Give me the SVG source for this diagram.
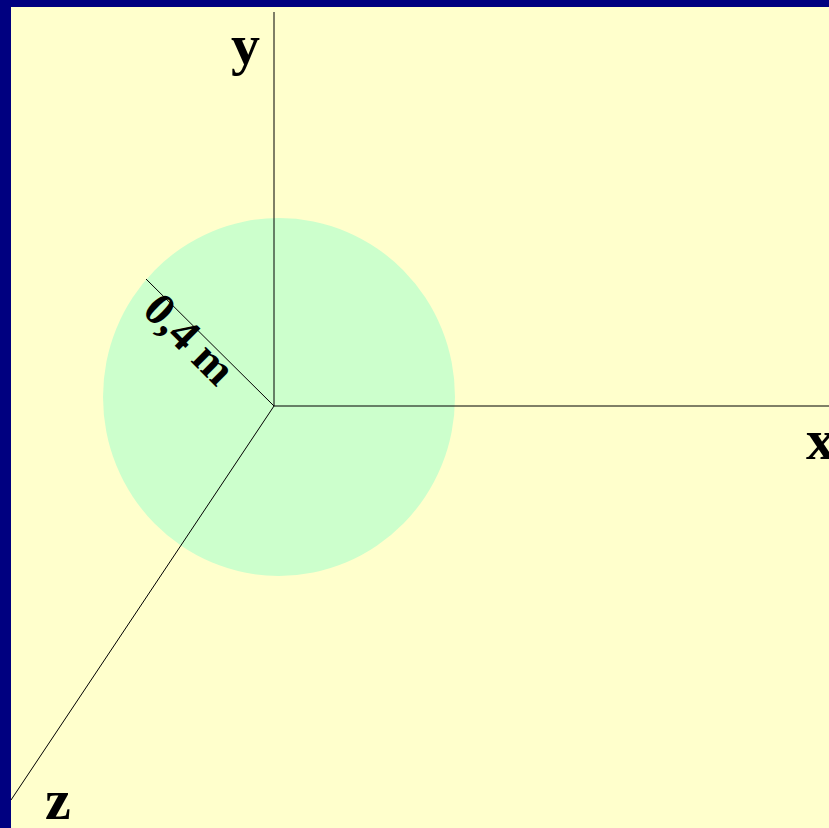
<svg xmlns="http://www.w3.org/2000/svg" width="829" height="828" viewBox="0 0 829 828">
<style>
.ax{stroke:#000;stroke-width:1;fill:none}
.lbl{font-family:"Liberation Serif",serif;font-weight:bold;fill:#000}
</style>
<rect x="0" y="0" width="829" height="828" fill="#000080"/>
<rect x="11" y="7" width="818" height="821" fill="#FFFFCC"/>
<g id="sphere"><ellipse cx="279" cy="397" rx="176" ry="179" fill="#CCFFCC"/></g>
<g id="connectors">
<line class="ax" x1="274" y1="12" x2="274" y2="406"/>
<line class="ax" x1="274" y1="406" x2="829" y2="406"/>
<line class="ax" x1="274" y1="406" x2="11" y2="800"/>
<line class="ax" x1="274" y1="406" x2="146" y2="279"/>
</g>
<g id="label-y"><text class="lbl" x="231" y="64" font-size="58">y</text></g>
<g id="label-x"><text class="lbl" x="806" y="459" font-size="58">x</text></g>
<g id="label-z"><text class="lbl" x="45" y="819" font-size="58">z</text></g>
<g id="label-r"><text class="lbl" font-size="46" transform="translate(141,312) rotate(45)">0,4 m</text></g>
</svg>
